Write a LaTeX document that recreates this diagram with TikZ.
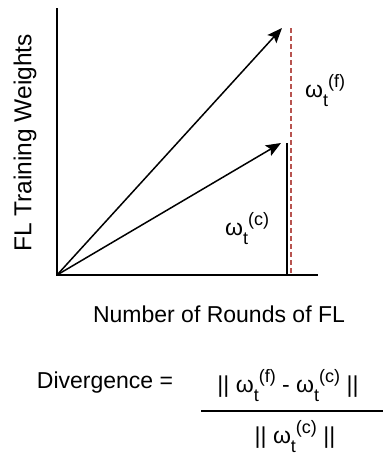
\documentclass[tikz,border=0pt]{standalone}
\usepackage{fontspec}
\setmainfont{Liberation Sans}
\usetikzlibrary{arrows.meta}

\newcommand{\wt}[1]{ω\raisebox{-0.42em}{\fontsize{18}{18}\selectfont t}\raisebox{0.4em}{\fontsize{18}{18}\selectfont(#1)}}

\begin{document}
\begin{tikzpicture}[x=1pt, y=-1pt,
		axis/.style={black, line width=1.5pt},
		vec/.style={black, line width=1.5pt, -{Stealth[length=15pt, width=12pt, inset=3pt]}},
		lbl/.style={font=\fontsize{23}{27}\selectfont, inner sep=0pt}]
	\useasboundingbox (0, 0) rectangle (383, 455);

	\coordinate (o) at (57, 275);
	\coordinate (ytop) at (57, 8);
	\coordinate (xend) at (318, 275);
	\draw[axis] (ytop) -- (o) -- (xend);

	\coordinate (ftip) at (282, 28);
	\coordinate (ctip) at (281, 143);
	\draw[vec] (o) -- (ftip);
	\draw[vec] (o) -- (ctip);

	\coordinate (ctop) at (287, 143);
	\coordinate (cbot) at (287, 275);
	\draw[black, line width=1.5pt] (ctop) -- (cbot);

	\coordinate (ftop) at (291, 28);
	\coordinate (fbot) at (291, 275);
	\draw[color={rgb,255:red,184;green,84;blue,80}, line width=1.5pt, dash pattern=on 5pt off 3pt] (ftop) -- (fbot);

	\node[lbl, anchor=base west] (wf) at (305, 97) {\wt{f}};
	\node[lbl, anchor=base west] (wc) at (225, 235) {\wt{c}};

	\node[lbl, anchor=base] (xlabel) at (219, 322) {Number of Rounds of FL};
	\node[lbl, font=\fontsize{24.5}{28}\selectfont, rotate=90] (ylabel) at (25, 143) {FL Training Weights};

	% divergence formula
	\node[lbl, anchor=base] (div) at (105, 388) {Divergence =};
	\node[lbl, anchor=base] (num) at (288, 392) {|| \wt{f} - \wt{c} ||};
	\node[lbl, anchor=base] (den) at (295, 443) {|| \wt{c} ||};
	\coordinate (barl) at (201, 411);
	\coordinate (barr) at (383, 411);
	\draw[black, line width=1.5pt] (barl) -- (barr);
\end{tikzpicture}
\end{document}
